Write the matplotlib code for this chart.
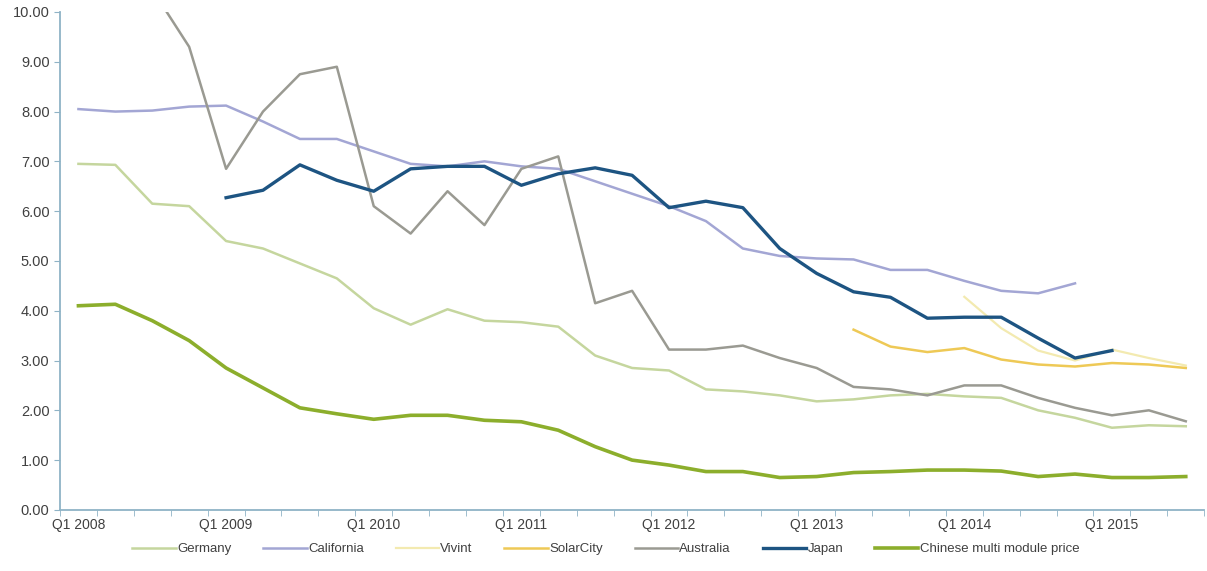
import matplotlib
matplotlib.use("Agg")
import matplotlib.pyplot as plt
import numpy as np
from matplotlib.ticker import FixedLocator, FuncFormatter

plt.rcParams['font.family'] = ['Liberation Sans Narrow', 'Liberation Sans', 'DejaVu Sans']

# quarters Q1 2008 .. Q3 2015
quarters = ["Q%d %d" % (q, y) for y in range(2008, 2016) for q in range(1, 5)][:31]
nan = np.nan

germany = [6.95, 6.93, 6.15, 6.10, 5.40, 5.25, 4.95, 4.65, 4.05, 3.72, 4.03, 3.80,
           3.77, 3.68, 3.10, 2.85, 2.80, 2.42, 2.38, 2.30, 2.18, 2.22, 2.30, 2.33,
           2.28, 2.25, 2.00, 1.85, 1.65, 1.70, 1.68]
california = [8.05, 8.00, 8.02, 8.10, 8.12, 7.80, 7.45, 7.45, 7.20, 6.95, 6.90, 7.00,
              6.90, 6.85, 6.60, 6.35, 6.10, 5.80, 5.25, 5.10, 5.05, 5.03, 4.82, 4.82,
              4.60, 4.40, 4.35, 4.55, nan, nan, nan]
vivint = [nan] * 24 + [4.28, 3.65, 3.20, 3.00, 3.22, 3.05, 2.90]
solarcity = [nan] * 21 + [3.62, 3.28, 3.17, 3.25, 3.02, 2.92, 2.88, 2.95, 2.92, 2.85]
australia = [nan, nan, 10.45, 9.30, 6.85, 8.00, 8.75, 8.90, 6.10, 5.55, 6.40, 5.72,
             6.85, 7.10, 4.15, 4.40, 3.22, 3.22, 3.30, 3.05, 2.85, 2.47, 2.42, 2.30,
             2.50, 2.50, 2.25, 2.05, 1.90, 2.00, 1.78]
japan = [nan] * 4 + [6.27, 6.42, 6.93, 6.62, 6.40, 6.85, 6.90, 6.90, 6.52, 6.75, 6.87,
                     6.72, 6.07, 6.20, 6.07, 5.25, 4.75, 4.38, 4.27, 3.85, 3.87, 3.87,
                     3.45, 3.05, 3.20, nan, nan]
chinese = [4.10, 4.13, 3.80, 3.40, 2.85, 2.45, 2.05, 1.93, 1.82, 1.90, 1.90, 1.80,
           1.77, 1.60, 1.27, 1.00, 0.90, 0.77, 0.77, 0.65, 0.67, 0.75, 0.77, 0.80,
           0.80, 0.78, 0.67, 0.72, 0.65, 0.65, 0.67]

series = [
    ("Germany", germany, "#c5d69e", 1.8),
    ("California", california, "#a3a6d4", 1.8),
    ("Vivint", vivint, "#f3eab0", 1.6),
    ("SolarCity", solarcity, "#eec956", 1.8),
    ("Australia", australia, "#9a9a92", 1.8),
    ("Japan", japan, "#1d5482", 2.4),
    ("Chinese multi module price", chinese, "#8cae2c", 2.6),
]

fig = plt.figure(figsize=(12.07, 5.71), dpi=100)
ax = fig.add_axes([0.0497, 0.107, 0.948, 0.872])

x = np.arange(len(quarters))
for name, vals, color, lw in series:
    ax.plot(x, vals, color=color, lw=lw, label=name, solid_joinstyle='round')

ax.set_xlim(-0.5, len(quarters) - 0.5)
ax.set_ylim(0, 10)
axis_col = "#8fb3c6"
for s in ("top", "right"):
    ax.spines[s].set_visible(False)
for s in ("left", "bottom"):
    ax.spines[s].set_color(axis_col)
    ax.spines[s].set_linewidth(1.3)

ax.set_yticks(np.arange(0, 10.01, 1))
ax.yaxis.set_major_formatter(FuncFormatter(lambda v, p: "%.2f" % v))
ax.tick_params(axis='y', colors=axis_col, length=4, labelcolor="#404040", labelsize=10.5)

ax.set_xticks(x[::4])
ax.set_xticklabels(quarters[::4])
ax.xaxis.set_minor_locator(FixedLocator(np.arange(-0.5, len(quarters), 1)))
ax.tick_params(axis='x', which='major', length=0, labelcolor="#404040", labelsize=10, pad=6)
ax.tick_params(axis='x', which='minor', length=4, color=axis_col)

fig.legend(loc='center', bbox_to_anchor=(0.502, 0.038), ncol=7, frameon=False,
           fontsize=9.5, handlelength=3.3, handletextpad=0.1, columnspacing=2.4,
           labelcolor="#404040")

fig.savefig("out.png", dpi=100)
